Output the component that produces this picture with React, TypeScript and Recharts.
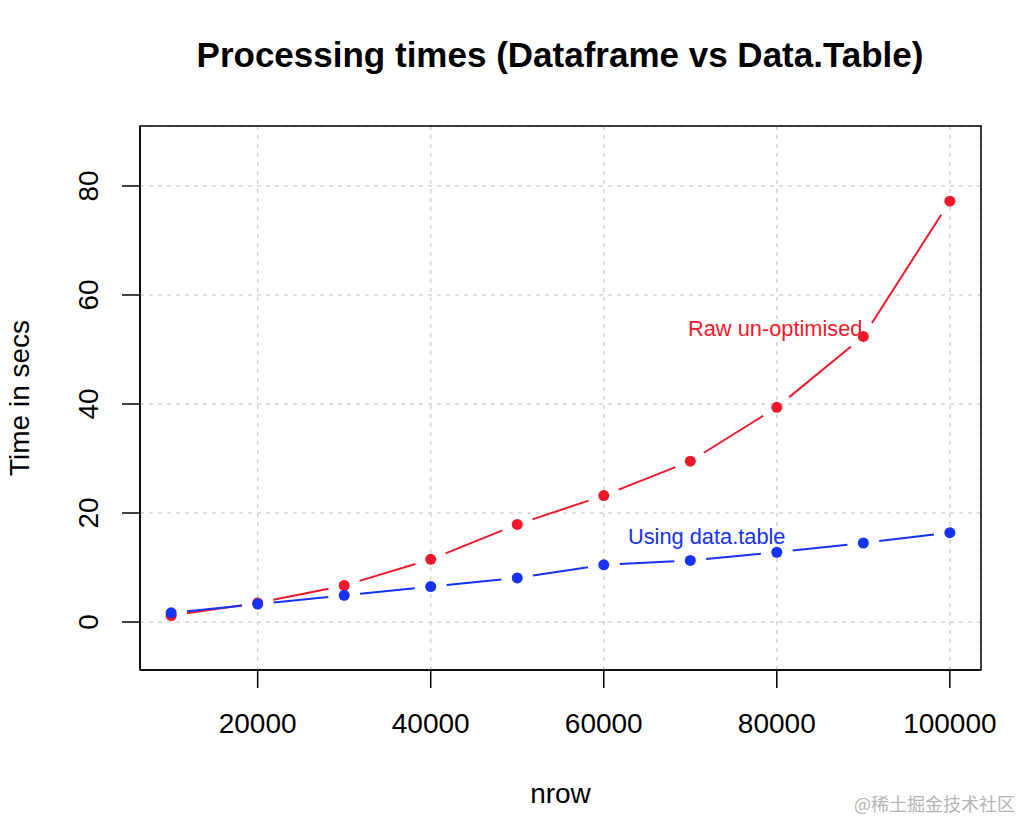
import { LineChart, Line, XAxis, YAxis, CartesianGrid, ReferenceDot, ReferenceArea, Label } from 'recharts';

const nrow = [10000, 20000, 30000, 40000, 50000, 60000, 70000, 80000, 90000, 100000];
const rawTimes = [1.2, 3.5, 6.7, 11.5, 17.9, 23.2, 29.5, 39.4, 52.4, 77.2];
const dtTimes = [1.7, 3.3, 4.9, 6.5, 8.1, 10.5, 11.3, 12.8, 14.5, 16.4];
const xTicks = [20000, 40000, 60000, 80000, 100000];
const yTicks = [0, 20, 40, 60, 80];

const X_DOMAIN = [6400, 103600];
const Y_DOMAIN = [-8.8, 91];

const RED = '#f2182b';
const BLUE = '#1632f2';
const FONT = '"Liberation Sans", Arial, Helvetica, sans-serif';
const GAP = 16; // R type="b": line stops short of each point

const data = nrow.map((n, i) => ({ nrow: n, raw: rawTimes[i], dt: dtTimes[i] }));

// draws the point plus the (shortened) segment to the next point
function makeDot(color: string) {
  return (props: any) => {
    const { cx, cy, index, points } = props;
    let seg = null;
    const next = points && points[index + 1];
    if (next && cx != null) {
      const dx = next.x - cx, dy = next.y - cy;
      const len = Math.hypot(dx, dy);
      if (len > 2 * GAP) {
        const ux = dx / len, uy = dy / len;
        seg = (
          <line x1={cx + ux * GAP} y1={cy + uy * GAP} x2={next.x - ux * GAP} y2={next.y - uy * GAP}
            stroke={color} strokeWidth={2} />
        );
      }
    }
    return (
      <g key={`dot-${color}-${index}`}>
        {seg}
        <circle cx={cx} cy={cy} r={5.5} fill={color} />
      </g>
    );
  };
}

function YTick({ x, y, payload }: any) {
  return (
    <text x={x} y={y} transform={`rotate(-90, ${x}, ${y})`} textAnchor="middle"
      fontSize={28} fontFamily={FONT} fill="#000">
      {payload.value}
    </text>
  );
}

export default function App() {
  return (
    <div style={{ position: 'absolute', left: 0, top: 0, width: 1024, height: 824, background: '#fff' }}>
      <LineChart width={1024} height={824} data={data} margin={{ top: 126, right: 43, bottom: 0, left: 0 }}>
        <CartesianGrid stroke="#d3d3d3" strokeDasharray="4 5" strokeWidth={1.5} />
        <XAxis
          dataKey="nrow" type="number" domain={X_DOMAIN} ticks={xTicks} allowDataOverflow
          height={154} tickSize={18} tickMargin={25}
          axisLine={{ stroke: '#000', strokeWidth: 1.5 }} tickLine={{ stroke: '#000', strokeWidth: 1.5 }}
          tick={{ fontSize: 28, fontFamily: FONT, fill: '#000' }}
        >
          <Label content={({ viewBox }: any) => (
            <text x={viewBox.x + viewBox.width / 2} y={viewBox.y + 133} textAnchor="middle"
              fontSize={28} fontFamily={FONT} fill="#000">nrow</text>
          )} />
        </XAxis>
        <YAxis
          type="number" domain={Y_DOMAIN} ticks={yTicks} allowDataOverflow
          width={140} tickSize={18} tickMargin={24}
          axisLine={{ stroke: '#000', strokeWidth: 1.5 }} tickLine={{ stroke: '#000', strokeWidth: 1.5 }}
          tick={<YTick />}
        >
          <Label content={({ viewBox }: any) => {
            const x = 29, y = viewBox.y + viewBox.height / 2;
            return (
              <text x={x} y={y} transform={`rotate(-90, ${x}, ${y})`} textAnchor="middle"
                fontSize={28} fontFamily={FONT} fill="#000">Time in secs</text>
            );
          }} />
        </YAxis>
        {/* plot box */}
        <ReferenceArea x1={X_DOMAIN[0]} x2={X_DOMAIN[1]} y1={Y_DOMAIN[0]} y2={Y_DOMAIN[1]}
          fill="none" fillOpacity={0} stroke="#000" strokeWidth={1.5} strokeOpacity={1} ifOverflow="visible" />
        <Line dataKey="raw" stroke="transparent" strokeWidth={0} dot={makeDot(RED)} activeDot={false}
          isAnimationActive={false} />
        <Line dataKey="dt" stroke="transparent" strokeWidth={0} dot={makeDot(BLUE)} activeDot={false}
          isAnimationActive={false} />
        <ReferenceDot x={89900} y={53.8} r={0} fill="none" stroke="none">
          <Label content={({ viewBox }: any) => (
            <text x={viewBox.x} y={viewBox.y} textAnchor="end" dominantBaseline="central"
              fontSize={21.8} fontFamily={FONT} fill={RED}>Raw un-optimised</text>
          )} />
        </ReferenceDot>
        <ReferenceDot x={71900} y={15.6} r={0} fill="none" stroke="none">
          <Label content={({ viewBox }: any) => (
            <text x={viewBox.x} y={viewBox.y} textAnchor="middle" dominantBaseline="central"
              fontSize={21.8} fontFamily={FONT} fill={BLUE}>Using data.table</text>
          )} />
        </ReferenceDot>
      </LineChart>
      <svg width={1024} height={824} style={{ position: 'absolute', left: 0, top: 0, pointerEvents: 'none' }}>
        <text x={560} y={67} textAnchor="middle" fontSize={35} fontWeight="bold" fontFamily={FONT} fill="#000">
          Processing times (Dataframe vs Data.Table)
        </text>
        <text x={1015} y={811} textAnchor="end" fontSize={18} fontFamily={'"Noto Sans CJK SC", sans-serif'} fill="#b4b4b4">
          @稀土掘金技术社区
        </text>
      </svg>
    </div>
  );
}
